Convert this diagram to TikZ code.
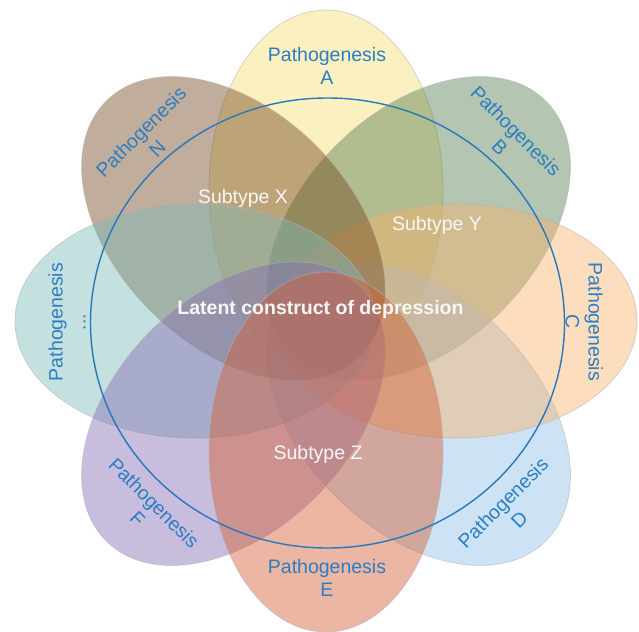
\documentclass[tikz,border=0pt]{standalone}
\usepackage{fontspec}
\setmainfont{Liberation Sans}
\definecolor{cA}{RGB}{246,222,115}
\definecolor{cB}{RGB}{88,126,84}
\definecolor{cC}{RGB}{248,179,111}
\definecolor{cD}{RGB}{144,193,233}
\definecolor{cE}{RGB}{211,93,51}
\definecolor{cF}{RGB}{135,108,179}
\definecolor{cG}{RGB}{124,186,184}
\definecolor{cN}{RGB}{115,73,33}
\definecolor{lblue}{RGB}{45,125,195}
\definecolor{ring}{RGB}{40,120,190}
\definecolor{soft}{RGB}{247,247,247}
\tikzset{
  petal/.style={fill=#1, fill opacity=0.45, draw=black!30, draw opacity=0.5, line width=0.5pt},
  plabel/.style={text=lblue, align=center, font=\fontsize{11.1}{13.1}\selectfont, inner sep=0pt},
  wlabel/.style={text=soft, font=\fontsize{11.1}{13.1}\selectfont, inner sep=0pt},
}
\begin{document}
\begin{tikzpicture}[x=0.02cm, y=-0.02cm]
\useasboundingbox (0,0) rectangle (639,632);
% petal centres (semi-major 180, semi-minor 117)
\coordinate (cenA) at (326,190);
\coordinate (cenB) at (418.6,228.4);
\coordinate (cenC) at (457,321);
\coordinate (cenD) at (418.6,413.6);
\coordinate (cenE) at (326,452);
\coordinate (cenF) at (233.4,413.6);
\coordinate (cenG) at (195,321);
\coordinate (cenN) at (233.4,228.4);
\path[petal=cA] (cenA) ellipse [x radius=117, y radius=180];
\path[petal=cB, rotate around={-45:(cenB)}] (cenB) ellipse [x radius=117, y radius=180];
\path[petal=cD, rotate around={45:(cenD)}] (cenD) ellipse [x radius=117, y radius=180];
\path[petal=cC] (cenC) ellipse [x radius=180, y radius=117];
\path[petal=cN, rotate around={45:(cenN)}] (cenN) ellipse [x radius=117, y radius=180];
\path[petal=cG] (cenG) ellipse [x radius=180, y radius=117];
\path[petal=cF, rotate around={-45:(cenF)}] (cenF) ellipse [x radius=117, y radius=180];
\path[petal=cE] (cenE) ellipse [x radius=117, y radius=180];
% ring
\coordinate (ringc) at (327.5,323);
\draw[ring, line width=0.8pt] (ringc) ellipse [x radius=237, y radius=225];
% labels
\node[plabel] (lA) at (327,66) {Pathogenesis\\A};
\node[plabel, rotate=-45] (lB) at (508,139) {Pathogenesis\\B};
\node[plabel, rotate=-90] (lC) at (584,322) {Pathogenesis\\C};
\node[plabel, rotate=45] (lD) at (511,511) {Pathogenesis\\D};
\node[plabel] (lE) at (327,578) {Pathogenesis\\E};
\node[plabel, rotate=-45] (lF) at (146,511) {Pathogenesis\\F};
\node[plabel, rotate=90] (lG) at (67,322) {Pathogenesis\\...};
\node[plabel, rotate=45] (lN) at (149,140) {Pathogenesis\\N};
\node[wlabel] (sX) at (243,198) {Subtype X};
\node[wlabel] (sY) at (437,225) {Subtype Y};
\node[wlabel] (sZ) at (318,454) {Subtype Z};
\node[wlabel, font=\fontsize{11.1}{13.1}\selectfont\bfseries] (lat) at (320.5,309) {Latent construct of depression};
\end{tikzpicture}
\end{document}
